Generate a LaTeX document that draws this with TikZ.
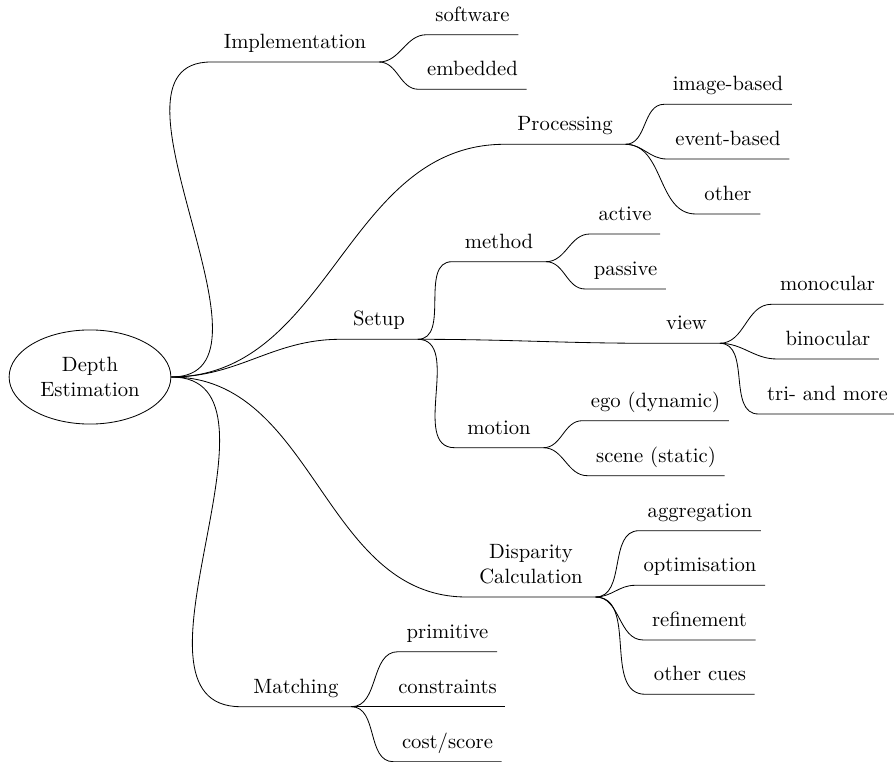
\documentclass[tikz,border=0pt]{standalone}
\usepackage{tikz}
\usetikzlibrary{shapes}

\begin{document}
\begin{tikzpicture}
	\tikzstyle{root}=[ellipse, draw, align=center,
	minimum width=2.75cm, minimum height=1.6cm]
	\tikzstyle{branch}=[anchor=south, align=center, inner xsep=6pt,
	inner ysep=4.3pt, text depth=2pt]
	\tikzstyle{leaf}=[branch, inner xsep=4pt]

	\useasboundingbox (-1.53,-6.545) rectangle (13.668,6.409);

	\node[root] at (0,0) (depth) {Depth\\Estimation};

	\node[branch] at (3.485,5.355) (impl) {Implementation};
	\node[leaf] at (6.503,5.819) (soft) {software};
	\node[leaf] at (6.503,4.891) (embed) {embedded};

	\node[branch] at (8.075,3.956) (proc) {Processing};
	\node[leaf] at (10.846,4.636) (imgb) {image-based};
	\node[leaf] at (10.846,3.706) (evtb) {event-based};
	\node[leaf] at (10.846,2.771) (other) {other};

	\node[branch] at (4.913,0.641) (setup) {Setup};
	\node[branch] at (6.953,1.960) (method) {method};
	\node[leaf] at (9.095,2.431) (active) {active};
	\node[leaf] at (9.104,1.496) (passive) {passive};
	\node[branch] at (10.141,0.573) (view) {view};
	\node[leaf] at (12.538,1.236) (mono) {monocular};
	\node[leaf] at (12.546,0.306) (bino) {binocular};
	\node[leaf] at (12.538,-0.629) (tri) {tri- and more};
	\node[branch] at (6.953,-1.202) (motion) {motion};
	\node[leaf] at (9.614,-0.743) (ego) {ego (dynamic)};
	\node[leaf] at (9.622,-1.678) (scene) {scene (static)};

	\node[branch] at (7.497,-3.740) (disp) {Disparity\\Calculation};
	\node[leaf] at (10.37,-2.613) (aggr) {aggregation};
	\node[leaf] at (10.37,-3.541) (optim) {optimisation};
	\node[leaf] at (10.36,-4.471) (refin) {refinement};
	\node[leaf] at (10.37,-5.394) (cues) {other cues};

	\node[branch] at (3.502,-5.605) (match) {Matching};
	\node[leaf] at (6.078,-4.670) (prim) {primitive};
	\node[leaf] at (6.078,-5.605) (constr) {constraints};
	\node[leaf] at (6.078,-6.540) (cost) {cost/score};

	\draw (depth.east) to[out=0, in=180] (impl.south west) -- (impl.south east);
	\draw (depth.east) to[out=0, in=180] (proc.south west) -- (proc.south east);
	\draw (depth.east) to[out=0, in=180] (setup.south west) -- (setup.south east);
	\draw (depth.east) to[out=0, in=180] (disp.south west) -- (disp.south east);
	\draw (depth.east) to[out=0, in=180] (match.south west) -- (match.south east);

	\draw (impl.south east) to[out=0, in=180] (soft.south west) -- (soft.south east);
	\draw (impl.south east) to[out=0, in=180] (embed.south west) -- (embed.south east);

	\draw (proc.south east) to[out=0, in=180] (imgb.south west) -- (imgb.south east);
	\draw (proc.south east) to[out=0, in=180] (evtb.south west) -- (evtb.south east);
	\draw (proc.south east) to[out=0, in=180] (other.south west) -- (other.south east);

	\draw (setup.south east) to[out=0, in=180] (method.south west) -- (method.south east);
	\draw (setup.south east) to[out=0, in=180] (view.south west) -- (view.south east);
	\draw (setup.south east) to[out=0, in=180] (motion.south west) -- (motion.south east);

	\draw (method.south east) to[out=0, in=180] (active.south west) -- (active.south east);
	\draw (method.south east) to[out=0, in=180] (passive.south west) -- (passive.south east);

	\draw (view.south east) to[out=0, in=180] (mono.south west) -- (mono.south east);
	\draw (view.south east) to[out=0, in=180] (bino.south west) -- (bino.south east);
	\draw (view.south east) to[out=0, in=180] (tri.south west) -- (tri.south east);

	\draw (motion.south east) to[out=0, in=180] (ego.south west) -- (ego.south east);
	\draw (motion.south east) to[out=0, in=180] (scene.south west) -- (scene.south east);

	\draw (disp.south east) to[out=0, in=180] (aggr.south west) -- (aggr.south east);
	\draw (disp.south east) to[out=0, in=180] (optim.south west) -- (optim.south east);
	\draw (disp.south east) to[out=0, in=180] (refin.south west) -- (refin.south east);
	\draw (disp.south east) to[out=0, in=180] (cues.south west) -- (cues.south east);

	\draw (match.south east) to[out=0, in=180] (prim.south west) -- (prim.south east);
	\draw (match.south east) to[out=0, in=180] (constr.south west) -- (constr.south east);
	\draw (match.south east) to[out=0, in=180] (cost.south west) -- (cost.south east);
\end{tikzpicture}
\end{document}
